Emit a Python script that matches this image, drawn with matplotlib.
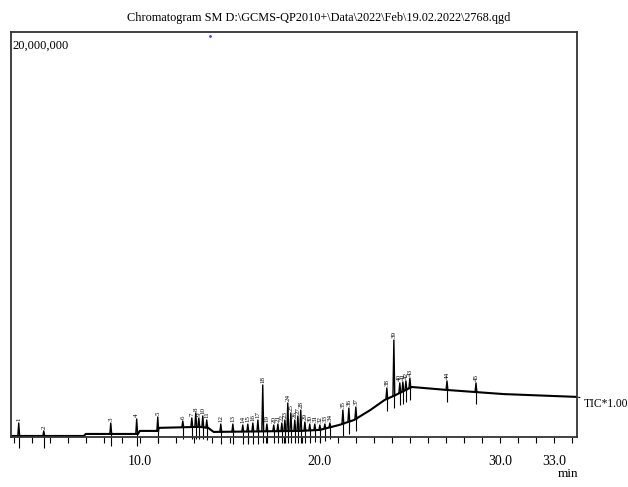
"""GCMS total ion chromatogram (TIC) with numbered peaks"""
import numpy as np
import matplotlib.pyplot as plt

plt.rcParams['font.family'] = ['Liberation Serif', 'DejaVu Serif']

# Baseline of the TIC trace (retention time [min], intensity)
base_time = [2.85, 6.9, 7.0, 9.9, 10.0, 11.0, 11.05, 13.3, 13.8, 14.1, 18.9,
             20.0, 21.1, 21.9, 22.8, 23.6, 24.2, 25.1, 27.1, 30.2, 34.28]
base_int = [0.05e6, 0.05e6, 0.15e6, 0.15e6, 0.3e6, 0.3e6, 0.45e6, 0.5e6, 0.45e6, 0.25e6, 0.3e6,
            0.35e6, 0.6e6, 0.84e6, 1.33e6, 1.83e6, 2.07e6, 2.47e6, 2.32e6, 2.12e6, 1.98e6]

# Peaks: retention time [min] and apex intensity
peak_time = [3.28, 4.67, 8.39, 9.83, 11.0, 12.39, 12.89, 13.11, 13.28, 13.5,
             13.72, 14.5, 15.17, 15.72, 16.0, 16.28, 16.56, 16.83, 17.06, 17.44,
             17.67, 17.89, 18.06, 18.22, 18.39, 18.61, 18.78, 18.94, 19.17, 19.44,
             19.72, 20.0, 20.28, 20.56, 21.28, 21.61, 22.0, 23.72, 24.11, 24.44,
             24.61, 24.78, 25.0, 27.06, 28.67]
peak_int = [0.69e6, 0.30e6, 0.69e6, 0.89e6, 0.99e6, 0.79e6, 0.94e6, 1.19e6, 0.94e6, 1.04e6,
            0.84e6, 0.64e6, 0.64e6, 0.59e6, 0.64e6, 0.69e6, 0.84e6, 2.57e6, 0.64e6, 0.59e6,
            0.64e6, 0.69e6, 0.84e6, 1.68e6, 1.19e6, 0.84e6, 1.04e6, 1.33e6, 0.74e6, 0.64e6,
            0.64e6, 0.59e6, 0.64e6, 0.69e6, 1.33e6, 1.43e6, 1.48e6, 2.42e6, 4.79e6, 2.67e6,
            2.72e6, 2.77e6, 2.91e6, 2.77e6, 2.67e6]
peak_labels = [str(i + 1) for i in range(len(peak_time))]

major_ticks = [10.0, 20.0, 30.0, 33.0]
title = 'Chromatogram SM D:\\GCMS-QP2010+\\Data\\2022\\Feb\\19.02.2022\\2768.qgd'

fig = plt.figure(figsize=(6.28, 4.87), dpi=100)
ax = fig.add_axes([0.0175, 0.1027, 0.9013, 0.8313])

# Baseline trace
ax.plot(base_time, base_int, color='k', lw=1.5, solid_joinstyle='round')

# Each peak as a narrow spike standing on the baseline, with its integration mark below
feet = np.interp(peak_time, base_time, base_int)
for t, top, foot, lab in zip(peak_time, peak_int, feet, peak_labels):
    ax.plot([t - 0.05, t, t + 0.05], [foot, top, foot], color='k', lw=1.0)
    ax.vlines(t, foot - 0.6e6, foot, color='k', lw=0.8, clip_on=False)
    ax.text(t, top + 0.08e6, lab, rotation=90, fontsize=5, ha='center', va='bottom')

ax.set_xlim(2.85, 34.28)
ax.set_ylim(0, 20e6)

ax.set_xticks(major_ticks)
ax.set_xticklabels(['%.1f' % v for v in major_ticks])
ax.set_xticks(np.arange(3, 35), minor=True)
ax.tick_params(axis='x', which='both', direction='out', length=4, width=0.8,
               pad=9, labelsize=10)
ax.set_yticks([])
for sp in ax.spines.values():
    sp.set_linewidth(1.3)
    sp.set_color('#333333')

ax.text(0.003, 0.982, '20,000,000', transform=ax.transAxes, fontsize=9, va='top', ha='left')
ax.plot([0.352], [0.99], marker='.', ms=2, color='#4040ff', transform=ax.transAxes)

# Trace label on the right
ax.annotate('TIC*1.00', xy=(34.28, base_int[-1]), xytext=(584, 83),
            textcoords='figure pixels', fontsize=8.3, va='center', ha='left',
            annotation_clip=False,
            arrowprops=dict(arrowstyle='-', linestyle=':', color='k', lw=0.9,
                            shrinkA=1, shrinkB=0))

fig.text(0.507, 0.963, title, fontsize=8.8, ha='center', va='center')
fig.text(0.905, 0.015, 'min', fontsize=9.5, ha='center', va='bottom')

fig.savefig('out.png', dpi=100)
